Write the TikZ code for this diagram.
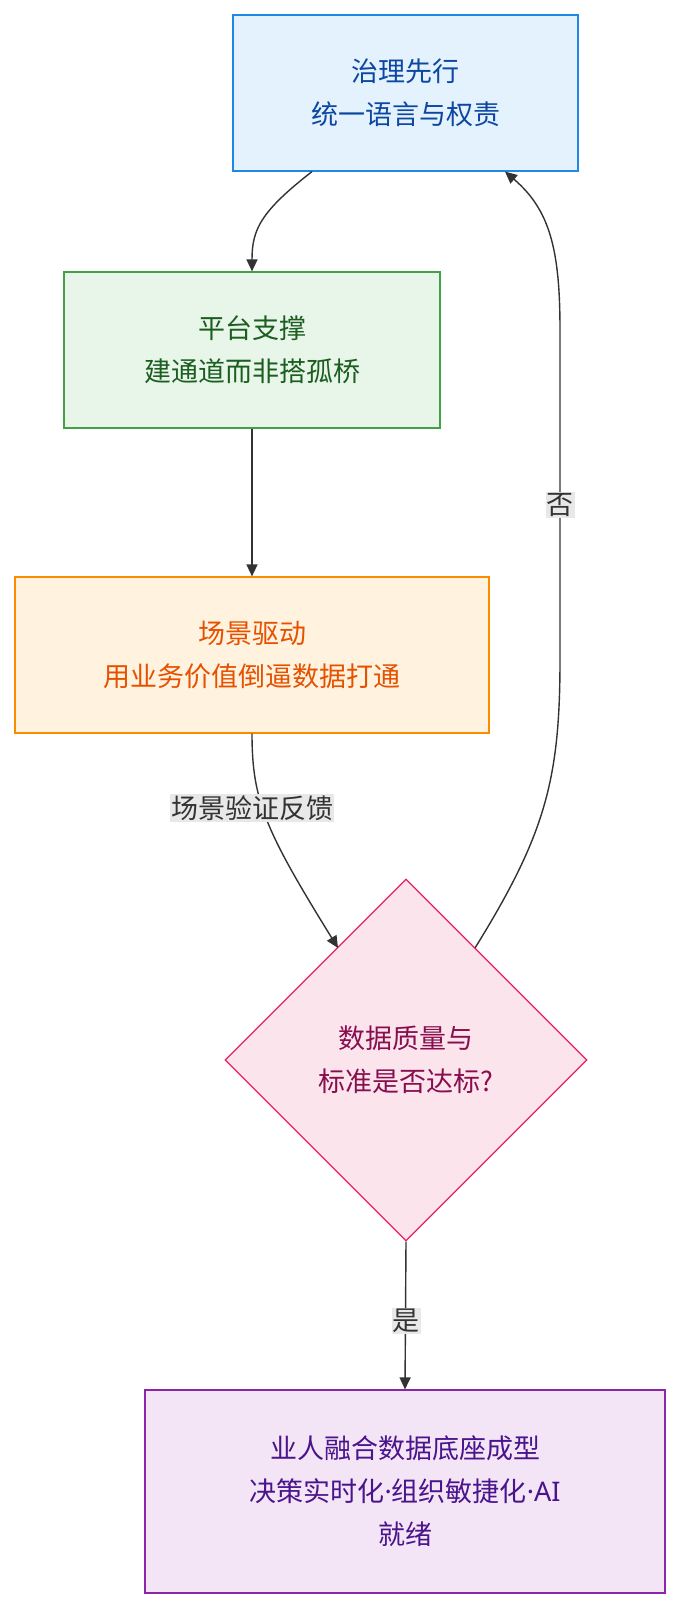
\documentclass[tikz,border=0pt]{standalone}
\usepackage{fontspec}
\setmainfont{Noto Sans CJK SC}
\newfontfamily\lat{Noto Sans}
\usetikzlibrary{shapes.geometric,arrows.meta}
\definecolor{f1}{HTML}{E3F2FD}\definecolor{s1}{HTML}{1E88E5}\definecolor{t1}{HTML}{0D47A1}
\definecolor{f2}{HTML}{E8F5E9}\definecolor{s2}{HTML}{43A047}\definecolor{t2}{HTML}{1B5E20}
\definecolor{f3}{HTML}{FFF3E0}\definecolor{s3}{HTML}{FB8C00}\definecolor{t3}{HTML}{E65100}
\definecolor{f4}{HTML}{FCE4EC}\definecolor{s4}{HTML}{E91E63}\definecolor{t4}{HTML}{880E4F}
\definecolor{f5}{HTML}{F3E5F5}\definecolor{s5}{HTML}{8E24AA}\definecolor{t5}{HTML}{4A148C}
\definecolor{lbl}{HTML}{E8E8E8}
\begin{document}
\begin{tikzpicture}[x=1pt,y=-1pt,
  box/.style={draw,line width=1.2pt,align=center,font=\fontsize{27}{43}\selectfont,inner sep=0pt},
  arr/.style={draw=black!80,line width=1.4pt,-{Triangle[length=12pt,width=11pt]}},
  lab/.style={fill=lbl,font=\fontsize{27}{30}\selectfont,text=black!80,inner sep=1pt}]
\useasboundingbox (0,0) rectangle (681,1607);
\node[box,fill=f1,draw=s1,text=t1,minimum width=345pt,minimum height=156pt] (a) at (405.5,93) {治理先行\\统一语言与权责};
\node[box,fill=f2,draw=s2,text=t2,minimum width=376pt,minimum height=156pt] (b) at (252,350) {平台支撑\\建通道而非搭孤桥};
\node[box,fill=f3,draw=s3,text=t3,minimum width=474pt,minimum height=156pt] (c) at (252,655) {场景驱动\\用业务价值倒逼数据打通};
\node[diamond,draw=s4,fill=f4,line width=1.2pt,text=t4,align=center,font=\fontsize{27}{43}\selectfont,minimum width=362pt,minimum height=362pt,inner sep=0pt] (d) at (406,1060) {数据质量与\\标准是否达标?};
\node[box,fill=f5,draw=s5,text=t5,minimum width=520pt,minimum height=203pt] (e) at (405,1491.5) {业人融合数据底座成型\\决策实时化{\lat·}组织敏捷化{\lat·AI}\\就绪};
\coordinate (a1) at (312,171.6);
\coordinate (a2) at (505,171.6);
\draw[arr] (a1) .. controls (260,212) and (252,230) .. (b.north);
\draw[arr] (b.south) -- (c.north);
\coordinate (d1) at (338,948);
\coordinate (d2) at (475,948);
\draw[arr] (c.south) .. controls (252,800) and (265,830) .. (d1);
\node[lab] (fb) at (252,808) {场景验证反馈};
\draw[arr] (d2) .. controls (545,835) and (560,780) .. (560,660) -- (560,330) .. controls (560,250) and (550,210) .. (a2);
\node[lab] (no) at (560,505) {否};
\draw[arr] (d.south) -- (e.north);
\node[lab] (yes) at (406,1321) {是};
\end{tikzpicture}
\end{document}
